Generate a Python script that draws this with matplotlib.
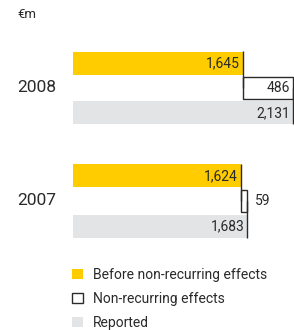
import matplotlib
matplotlib.use("Agg")
import matplotlib.pyplot as plt
from matplotlib.patches import Patch
from matplotlib.transforms import blended_transform_factory

plt.rcParams['font.family'] = ['Roboto', 'DejaVu Sans']

years = ["2008", "2007"]
before = [1645, 1624]
nonrec = [486, 59]
reported = [2131, 1683]
before_lbl = ["1,645", "1,624"]
nonrec_lbl = ["486", "59"]
reported_lbl = ["2,131", "1,683"]
legend_labels = ["Before non-recurring effects", "Non-recurring effects", "Reported"]

YELLOW = "#FFCC00"
GREY = "#E3E4E6"
DARK = "#2a2a2a"

W, H = 294, 330
fig = plt.figure(figsize=(W/100, H/100), dpi=100)
ax = fig.add_axes([73/W, 0, 221/W, 1])
ax.set_xlim(0, 2141)
unit = 113
ax.set_ylim((H-88)/unit, -88/unit)
ax.axis('off')

off = 25/unit
bh = 23/unit
ytrans = blended_transform_factory(fig.transFigure, ax.transData)
FS = 10
for i in range(len(years)):
    ax.barh(i - off, before[i], height=bh, color=YELLOW, linewidth=0)
    ax.vlines(before[i], i - off - bh/2, i, color=DARK, lw=1)
    ax.barh(i, nonrec[i], left=before[i], height=bh*0.96, facecolor="white",
            edgecolor=DARK, linewidth=1)
    ax.barh(i + off, reported[i], height=bh, color=GREY, linewidth=0)
    ax.vlines(reported[i], i, i + off + bh/2, color=DARK, lw=1)
    pad = 25
    ax.text(before[i] - pad, i - off, before_lbl[i], ha='right', va='center',
            fontsize=FS, color=DARK)
    ax.text(reported[i] - pad, i + off, reported_lbl[i], ha='right', va='center',
            fontsize=FS, color=DARK)
    if nonrec[i] > 200:
        ax.text(before[i] + nonrec[i] - pad, i, nonrec_lbl[i], ha='right', va='center',
                fontsize=FS, color=DARK)
    else:
        ax.text(before[i] + nonrec[i] + 80, i, nonrec_lbl[i], ha='left', va='center',
                fontsize=FS, color=DARK)
    ax.text(17/W, i, years[i], transform=ytrans,
            ha='left', va='center', fontsize=12.5, color=DARK)

fig.text(17/W, 1 - 15/H, "€m", ha='left', va='center', fontsize=FS - 0.5, color=DARK)

handles = [Patch(facecolor=YELLOW, edgecolor='none'),
           Patch(facecolor='white', edgecolor=DARK, linewidth=1),
           Patch(facecolor=GREY, edgecolor='none')]
fig.legend(handles, legend_labels, loc='upper left', bbox_to_anchor=(72/W, 1 - 268/H),
           frameon=False, fontsize=FS, handlelength=0.8, handleheight=0.8,
           handletextpad=0.7, labelspacing=0.72, borderpad=0, borderaxespad=0,
           labelcolor=DARK)

fig.savefig("out.png", dpi=100)
